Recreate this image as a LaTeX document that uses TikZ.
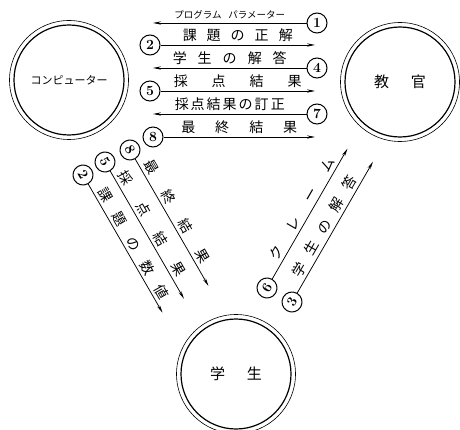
\documentclass[tikz,border=0pt]{standalone}
\usepackage{fontspec}
\usepackage{tikz}
\usetikzlibrary{positioning,arrows.meta}
\newfontfamily\jp{Noto Sans CJK JP}

\begin{document}
\begin{tikzpicture}[
  x=1pt, y=1pt,
  font=\jp,
  ent/.style={draw, circle, line width=1.2pt, minimum size=110pt,
              font=\jp\fontsize{15}{15}\selectfont},
  num/.style={draw, circle, line width=1pt, inner sep=0pt, minimum size=20pt,
              font=\rmfamily\bfseries\fontsize{14}{14}\selectfont},
  lab/.style={font=\jp\fontsize{14}{14}\selectfont, inner sep=3pt},
  flow/.style={->, line width=0.75pt},
  >={Stealth[length=8pt,width=3.2pt]}
]
\useasboundingbox (0,0) rectangle (460,429);

% the three parties
\node[ent] (comp) at (69,349) {\fontsize{11}{11}\selectfont コンピューター};
\node[ent] (teach) at (400,347) {教\hspace{22pt}官};
\node[ent] (stud) at (236,55) {学\hspace{22pt}生};
\foreach \e in {comp,teach,stud}
  \draw[line width=0.6pt] (\e) circle (59.5pt);

% computer <-> teacher
\node[num] (n1) at (317,406) {1};
\node[num] (n2) at (150,384) {2};
\node[num] (n4) at (317,361) {4};
\node[num] (n5) at (150,338) {5};
\node[num] (n7) at (317,315) {7};
\node[num] (n8) at (153,292) {8};
\coordinate (t1) at (153,406);
\coordinate (t2) at (315,384);
\coordinate (t4) at (153,361);
\coordinate (t5) at (315,338);
\coordinate (t7) at (153,315);
\coordinate (t8) at (315,292);

\draw[flow] (n1) -- node[lab, above, font=\jp\fontsize{9.5}{9.5}\selectfont]
  {プログラム\hspace{7pt}パラメーター} (t1);
\draw[flow] (n2) -- node[lab, above]
  {課\hspace{10pt}題\hspace{10pt}の\hspace{10pt}正\hspace{10pt}解} (t2);
\draw[flow] (n4) -- node[lab, above]
  {学\hspace{11pt}生\hspace{11pt}の\hspace{11pt}解\hspace{11pt}答} (t4);
\draw[flow] (n5) -- node[lab, above]
  {採\hspace{24pt}点\hspace{24pt}結\hspace{24pt}果} (t5);
\draw[flow] (n7) -- node[lab, above]
  {採\hspace{2pt}点\hspace{2pt}結\hspace{2pt}果\hspace{2pt}の\hspace{2pt}訂\hspace{2pt}正} (t7);
\draw[flow] (n8) -- node[lab, above]
  {最\hspace{20pt}終\hspace{20pt}結\hspace{20pt}果} (t8);

% computer -> student
\node[num, rotate=-60] (l8) at (130,279) {8};
\node[num, rotate=-60] (l5) at (105,267) {5};
\node[num, rotate=-60] (l2) at (83,254) {2};
\coordinate (s8) at (208.5,143);
\coordinate (s5) at (184,130.2);
\coordinate (s2) at (162.5,116.3);

\draw[flow] (l8) -- node[lab, sloped, above, pos=0.45]
  {最\hspace{20pt}終\hspace{20pt}結\hspace{20pt}果} (s8);
\draw[flow] (l5) -- node[lab, sloped, above, pos=0.45]
  {採\hspace{21pt}点\hspace{21pt}結\hspace{21pt}果} (s5);
\draw[flow] (l2) -- node[lab, sloped, above]
  {課\hspace{14pt}題\hspace{14pt}の\hspace{14pt}数\hspace{14pt}値} (s2);

% student -> teacher
\node[num, rotate=60] (r6) at (267,141) {6};
\node[num, rotate=60] (r3) at (292,127) {3};
\coordinate (u6) at (347.5,280.4);
\coordinate (u3) at (373,267.3);

\draw[flow] (r6) -- node[lab, sloped, above]
  {ク\hspace{20pt}レ\hspace{20pt}ー\hspace{20pt}ム} (u6);
\draw[flow] (r3) -- node[lab, sloped, above, pos=0.47]
  {学\hspace{11pt}生\hspace{11pt}の\hspace{11pt}解\hspace{11pt}答} (u3);
\end{tikzpicture}
\end{document}
